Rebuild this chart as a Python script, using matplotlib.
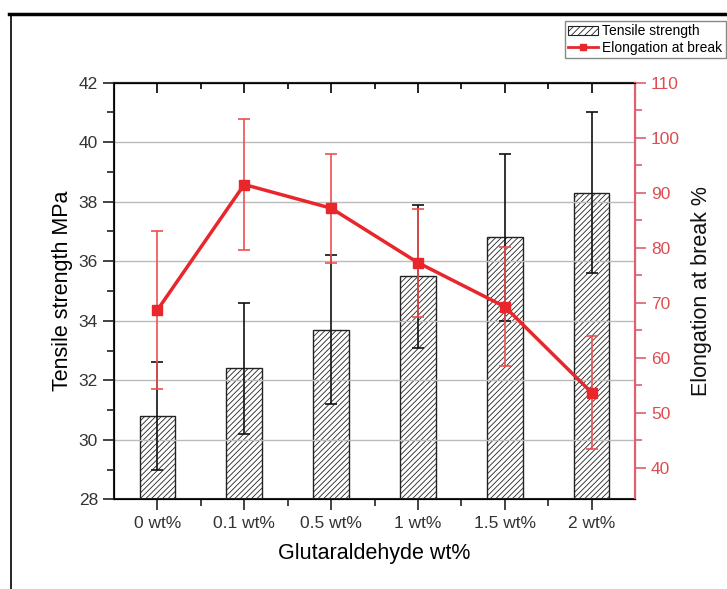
import numpy as np
import matplotlib.pyplot as plt
from matplotlib.lines import Line2D
from matplotlib.patches import Patch

plt.rcParams['font.family'] = ['Liberation Sans', 'DejaVu Sans']
plt.rcParams['hatch.linewidth'] = 0.6
plt.rcParams['hatch.color'] = '#444444'

# data
categories = ['0 wt%', '0.1 wt%', '0.5 wt%', '1 wt%', '1.5 wt%', '2 wt%']
tensile = [30.8, 32.4, 33.7, 35.5, 36.8, 38.3]
tensile_err = [1.8, 2.2, 2.5, 2.4, 2.8, 2.7]
elongation = [68.7, 91.5, 87.2, 77.3, 69.3, 53.7]
elongation_err = [14.4, 11.9, 9.9, 9.8, 10.8, 10.3]

red = '#e8262b'
red_light = '#ee5050'
red_text = '#dd4c50'

fig = plt.figure(figsize=(7.27, 5.89), dpi=100)
ax1 = fig.add_axes([114/727, 1-499.3/589, (635-114)/727, (499.3-82.7)/589])
x = np.arange(len(categories))

# Bars with hatch
ax1.bar(x, tensile, width=0.41, bottom=0, facecolor='white', edgecolor='#222222',
        linewidth=1.0, hatch='//////', zorder=2)
ax1.errorbar(x, tensile, yerr=tensile_err, fmt='none', ecolor='#111111',
             elinewidth=1.2, capsize=4, capthick=1.2, zorder=3)

ax1.set_xlim(-0.5, 5.5)
ax1.set_ylim(28, 42)
ax1.set_yticks(np.arange(28, 43, 2))
ax1.set_yticks(np.arange(29, 42, 2), minor=True)
ax1.set_xticks(x)
ax1.set_xticks(x[:-1] + 0.5, minor=True)
ax1.set_xticklabels(categories)

# grid lines (over the bars, as in the reference)
for gy in range(30, 42, 2):
    ax1.axhline(gy, color='#bbbbbb', linewidth=1.0, zorder=2.5)

ax1.tick_params(axis='both', which='major', direction='out', length=8, width=1.2,
                labelsize=12.5, colors='#222222', labelcolor='#333333')
ax1.tick_params(axis='both', which='minor', direction='out', length=5, width=1.2,
                colors='#222222')
ax1.tick_params(axis='x', pad=4)
for s in ['left', 'bottom', 'top']:
    ax1.spines[s].set_linewidth(1.5)
    ax1.spines[s].set_color('#222222')

# Top ticks pointing inward
top = ax1.secondary_xaxis('top')
top.set_xticks(x)
top.set_xticks(x[:-1] + 0.5, minor=True)
top.tick_params(which='major', direction='in', length=7, width=1.2, labeltop=False)
top.tick_params(which='minor', direction='in', length=4, width=1.2)
top.spines['top'].set_linewidth(1.5)

ax1.set_ylabel('Tensile strength MPa', fontsize=15.5, labelpad=4)
ax1.set_xlabel('Glutaraldehyde wt%', fontsize=15.5, labelpad=9)

# Elongation on right axis
ax2 = ax1.twinx()
ax2.errorbar(x, elongation, yerr=elongation_err, fmt='none', ecolor=red_light,
             elinewidth=1.2, capsize=4, capthick=1.2, zorder=3)
ax2.plot(x, elongation, color=red, linewidth=2.5, marker='s', markersize=7,
         markerfacecolor=red, markeredgecolor=red, zorder=4)
ax2.set_ylim(34.3, 110)
ax2.set_yticks(np.arange(40, 111, 10))
ax2.set_yticks(np.arange(45, 110, 10), minor=True)
ax2.tick_params(axis='y', which='major', direction='out', length=8, width=1.2,
                labelsize=12.5, colors='#e06070', labelcolor=red_text)
ax2.tick_params(axis='y', which='minor', direction='out', length=5, width=1.2,
                colors='#e06070')
ax2.spines['right'].set_color('#e06070')
ax2.spines['right'].set_linewidth(1.5)
ax2.set_ylabel('Elongation at break %', fontsize=15.5, labelpad=8, color='#111111')

# legend
handles = [Patch(facecolor='white', edgecolor='#222222', hatch='/////', linewidth=0.8),
           Line2D([0], [0], color=red, linewidth=2, marker='s', markersize=5)]
fig.legend(handles, ['Tensile strength', 'Elongation at break'],
           loc='upper left', bbox_to_anchor=(565/727, 1-21/589), fontsize=10,
           frameon=True, fancybox=False, edgecolor='#888888', framealpha=1,
           borderpad=0.25, labelspacing=0.15, handlelength=2.1, handletextpad=0.35,
           borderaxespad=0)

# outer frame lines of the original picture
fig.add_artist(Line2D([9/727, 1], [1-14/589, 1-14/589], color='black', linewidth=2.5))
fig.add_artist(Line2D([11/727, 11/727], [0, 1-14/589], color='black', linewidth=1.2))

fig.savefig('out.png', dpi=100)
